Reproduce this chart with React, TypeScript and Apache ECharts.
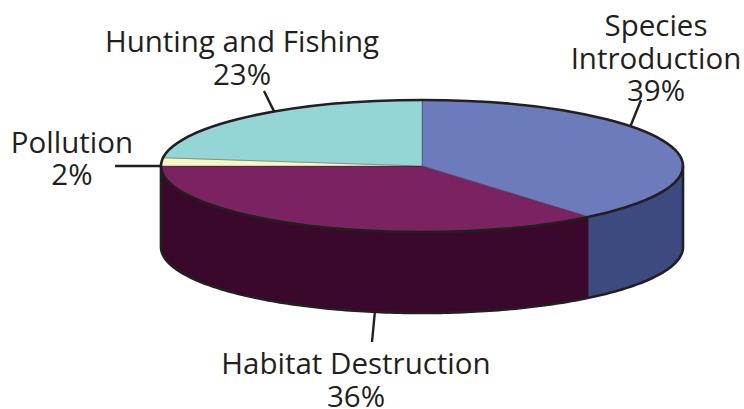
import React, { useEffect, useRef } from "react";
import * as echarts from "echarts";

const categories = ["Species Introduction", "Habitat Destruction", "Pollution", "Hunting and Fishing"];
const labelNames = ["Species\nIntroduction", "Habitat Destruction", "Pollution", "Hunting and Fishing"];
const values = [39, 36, 2, 23];
const topColors = ["#6C7BBC", "#7A2360", "#F8F6C3", "#94D6D5"];
const sideColors = ["#3C4A80", "#39082B", "#C9C79A", "#6AA8A7"];

// geometry (layout, not data)
const CX = 422;
const CY = 166;
const RX = 261;
const RY = 66;
const DEPTH = 81;
const INK = "#231F20";
const FONT = "Open Sans";
const FONT_SIZE = 29.5;
const LINE_H = 32.5;

// label layout: anchor angle on rim, whether on bottom rim, leader end, text centre
const labelLayout = [
  { angle: 53, bottom: false, end: [641, 100], text: [656, 57] },
  { angle: 190.4, bottom: true, end: [372, 342], text: [356, 379] },
  { angle: 270, bottom: false, end: [115, 166], text: [72, 157.5] },
  { angle: 325.5, bottom: false, end: [264, 91], text: [242, 57] },
];

function pt(deg: number, dy: number): number[] {
  const t = (deg * Math.PI) / 180;
  return [CX + RX * Math.sin(t), CY - RY * Math.cos(t) + dy];
}

function arc(a0: number, a1: number, dy: number): number[][] {
  const pts: number[][] = [];
  const n = Math.max(2, Math.ceil(Math.abs(a1 - a0)));
  for (let k = 0; k <= n; k++) pts.push(pt(a0 + ((a1 - a0) * k) / n, dy));
  return pts;
}

export default function App() {
  const ref = useRef<HTMLDivElement>(null);
  useEffect(() => {
    if (!ref.current) return;
    const chart = echarts.init(ref.current, null, { renderer: "svg" });
    const total = values.reduce((a, b) => a + b, 0);

    const renderSlice = (params: any, api: any) => {
      const i = params.dataIndex;
      const v = api.value(0);
      let before = 0;
      for (let k = 0; k < i; k++) before += values[k];
      const start = (before / total) * 360;
      const end = start + (v / total) * 360;
      const children: any[] = [];
      const b0 = Math.max(start, 90);
      const b1 = Math.min(end, 270);
      if (b1 > b0) {
        const pts = arc(b0, b1, 0).concat(arc(b1, b0, DEPTH));
        children.push({
          type: "polygon",
          shape: { points: pts },
          style: { fill: sideColors[i], stroke: sideColors[i], lineWidth: 0.5 },
        });
      }
      const topPts = [[CX, CY]].concat(arc(start, end, 0));
      children.push({
        type: "polygon",
        shape: { points: topPts },
        style: { fill: topColors[i], stroke: "rgba(35,31,32,0.45)", lineWidth: 0.7 },
      });
      const L = labelLayout[i];
      const s = pt(L.angle, L.bottom ? DEPTH : 0);
      children.push({
        type: "line",
        shape: { x1: s[0], y1: s[1], x2: L.end[0], y2: L.end[1] },
        style: { stroke: INK, lineWidth: 2.4 },
      });
      children.push({
        type: "text",
        style: {
          text: labelNames[i] + "\n" + Math.round((v / total) * 100) + "%",
          x: L.text[0],
          y: L.text[1],
          align: "center",
          verticalAlign: "middle",
          fontFamily: FONT,
          fontSize: FONT_SIZE,
          lineHeight: LINE_H,
          fill: INK,
        },
      });
      return { type: "group", children };
    };

    const renderOutline = () => {
      const front = [pt(90, 0)].concat(arc(90, 270, DEPTH)).concat([pt(270, 0)]);
      return {
        type: "group",
        children: [
          {
            type: "ellipse",
            shape: { cx: CX, cy: CY, rx: RX, ry: RY },
            style: { fill: "none", stroke: INK, lineWidth: 2.6 },
          },
          {
            type: "polyline",
            shape: { points: front },
            style: { fill: "none", stroke: INK, lineWidth: 2.6 },
          },
        ],
      };
    };

    chart.setOption({
      animation: false,
      series: [
        {
          type: "custom",
          name: "Threats",
          coordinateSystem: "none",
          renderItem: renderSlice,
          data: values.map((v, i) => ({ value: v, name: categories[i] })),
          z: 2,
        },
        {
          type: "custom",
          name: "outline",
          coordinateSystem: "none",
          renderItem: renderOutline,
          data: [0],
          z: 3,
          silent: true,
        },
      ],
    });
    return () => chart.dispose();
  }, []);
  return (
    <div
      ref={ref}
      style={{ position: "fixed", left: 0, top: 0, width: 744, height: 409, background: "#fff" }}
    />
  );
}
